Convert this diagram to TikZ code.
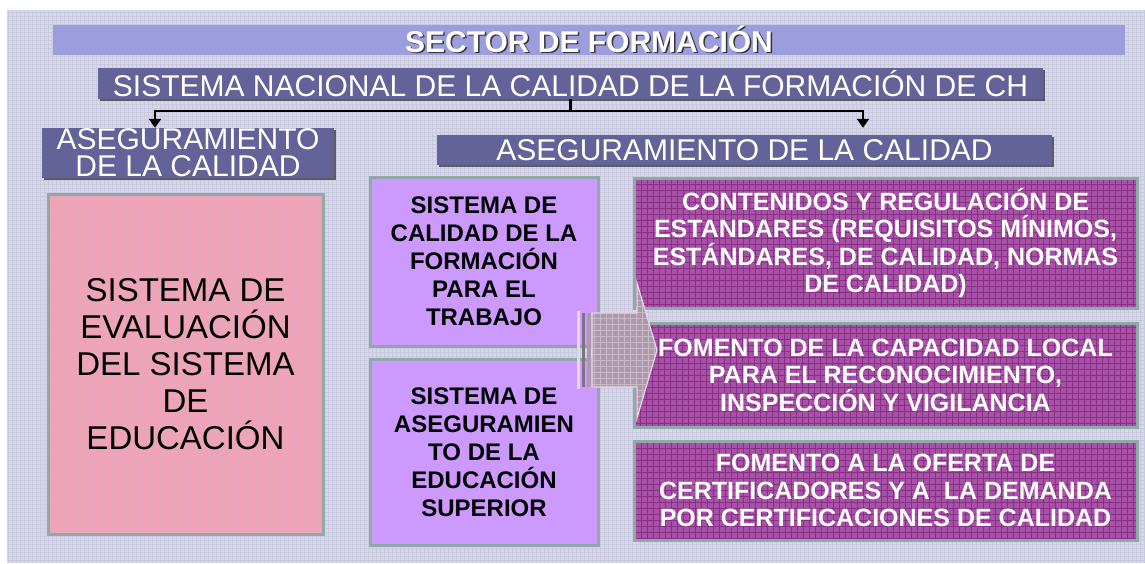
\documentclass[tikz,border=0pt]{standalone}
\usepackage{fontspec}
\setmainfont{Liberation Sans}
\usetikzlibrary{arrows.meta,shadows}
\definecolor{fondo}{HTML}{D7D7EA}
\definecolor{fondogrid}{HTML}{C8C8DF}
\definecolor{lila}{HTML}{9D9DDD}
\definecolor{pizarra}{HTML}{636399}
\definecolor{rosa}{HTML}{F2A3B3}
\definecolor{rosagrid}{HTML}{E2A8C4}
\definecolor{violeta}{HTML}{CC99FF}
\definecolor{magentas}{HTML}{A653A6}
\definecolor{magentagrid}{HTML}{8A2E8A}
\definecolor{borde}{HTML}{8FA9A6}
\definecolor{flecha}{HTML}{AA9AAA}
\definecolor{flechaluz}{HTML}{E8D6E6}
\newcommand\sombra[1]{\rlap{\kern1.5pt\raisebox{-1.5pt}{\color{black!80}#1}}#1}

\begin{document}
\begin{tikzpicture}[x=1pt,y=-1pt,
    trama/.style={path picture={\draw[#1,line width=0.5pt,step=6pt] (path picture bounding box.south west) grid (path picture bounding box.north east);}},
    encabezado/.style={fill=pizarra,text=white,align=center,inner sep=0pt,
        drop shadow={shadow xshift=2pt,shadow yshift=-2pt,fill=black!75,opacity=0.8}},
    caja/.style={draw=borde,line width=3pt,align=center,inner sep=0pt},
    conector/.style={line width=2.5pt,black},
    punta/.style={-{Triangle[width=12pt,length=9pt]}}]
    \useasboundingbox (0,0) rectangle (1145,563);
    % fondo
    \fill[fondo] (7,563) rectangle (1145,10);
    \draw[fondogrid,line width=0.3pt,step=4pt] (7,563) grid (1145,10);
    % encabezados
    \node[fill=lila,inner sep=0pt,minimum width=1072,minimum height=30,text=white,
        font=\fontsize{30}{32}\selectfont\bfseries] (sector) at (589,40) {\sombra{SECTOR DE FORMACIÓN}};
    \node[encabezado,minimum width=945,minimum height=31,
        font=\fontsize{30}{32}\selectfont] (nacional) at (570.5,83.5) {SISTEMA NACIONAL DE LA CALIDAD DE LA FORMACIÓN DE CH};
    \node[encabezado,minimum width=292,minimum height=50,
        font=\fontsize{30}{27}\selectfont] (asegizq) at (188,153) {ASEGURAMIENTO\\DE LA CALIDAD};
    \node[encabezado,minimum width=615,minimum height=30,
        font=\fontsize{30}{32}\selectfont] (asegder) at (744.5,150) {ASEGURAMIENTO DE LA CALIDAD};
    % ramas
    \draw[conector] (nacional.south) -- ++(0,12) coordinate (rama);
    \draw[conector,punta] (rama) -| ([xshift=-33pt]asegizq.north);
    \draw[conector,punta] (rama) -| ([xshift=118.5pt,yshift=7pt]asegder.north);
    % columna izquierda
    \node[caja,fill=rosa,trama=rosagrid,minimum width=275,minimum height=340,
        font=\fontsize{33}{37}\selectfont] (evaluacion) at (185.5,364) {SISTEMA DE\\EVALUACIÓN\\DEL SISTEMA\\DE\\EDUCACIÓN};
    % columna central
    \node[caja,fill=violeta,minimum width=228,minimum height=169,
        font=\fontsize{24}{28}\selectfont\bfseries] (formacion) at (484,261.5) {SISTEMA DE\\CALIDAD DE LA\\FORMACIÓN\\PARA EL\\TRABAJO};
    \node[caja,fill=violeta,minimum width=228,minimum height=186,
        font=\fontsize{24}{28}\selectfont\bfseries] (superior) at (484,452) {SISTEMA DE\\ASEGURAMIEN\\TO DE LA\\EDUCACIÓN\\SUPERIOR};
    % columna derecha
    \node[caja,fill=magentas,trama=magentagrid,text=white,minimum width=503,minimum height=130,
        font=\fontsize{25}{27.5}\selectfont\bfseries] (contenidos) at (885.5,243) {CONTENIDOS Y REGULACIÓN DE\\ESTANDARES (REQUISITOS MÍNIMOS,\\ESTÁNDARES, DE CALIDAD, NORMAS\\DE CALIDAD)};
    \node[caja,fill=magentas,trama=magentagrid,text=white,minimum width=503,minimum height=104,
        font=\fontsize{25}{27.5}\selectfont\bfseries] (fomento) at (885.5,375) {FOMENTO DE LA CAPACIDAD LOCAL\\PARA EL RECONOCIMIENTO,\\INSPECCIÓN Y VIGILANCIA};
    \node[caja,fill=magentas,trama=magentagrid,text=white,minimum width=503,minimum height=99,
        font=\fontsize{25}{27.5}\selectfont\bfseries] (oferta) at (885.5,490.5) {FOMENTO A LA OFERTA DE\\CERTIFICADORES Y A~~LA DEMANDA\\POR CERTIFICACIONES DE CALIDAD};
    % flecha grande
    \filldraw[fill=flecha,draw=flechaluz,line width=1.2pt,trama=flechaluz!50!flecha]
        (592,313) -- (637,313) -- (637,283) -- (657,350) -- (637,418) -- (637,387) -- (592,387) -- cycle;
    \fill[flechaluz] (577,311) rectangle (580,389);
    \fill[flecha!75!black] (582,313) rectangle (585,387);
    \fill[flecha] (587,313) rectangle (591,387);
\end{tikzpicture}
\end{document}
